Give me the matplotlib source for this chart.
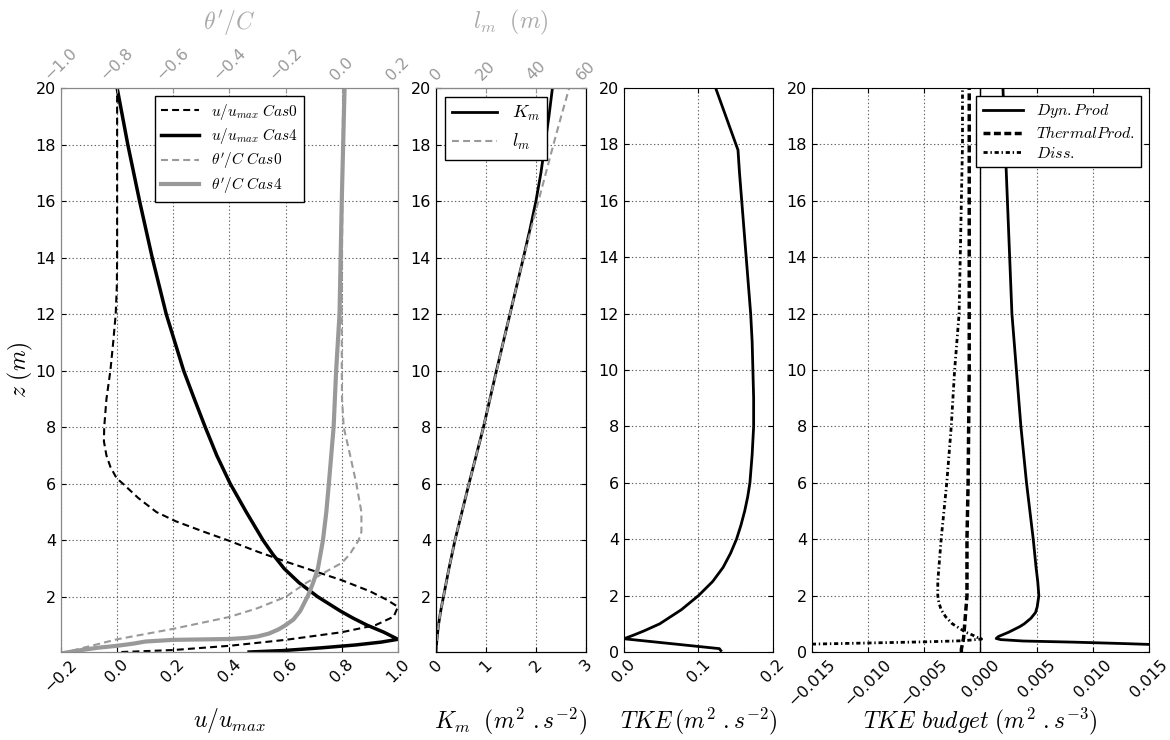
import matplotlib
matplotlib.use('Agg')
import matplotlib.pyplot as plt

plt.rcParams['mathtext.fontset'] = 'cm'
plt.rcParams['xtick.direction'] = 'in'
plt.rcParams['ytick.direction'] = 'in'
plt.rcParams['xtick.top'] = True
plt.rcParams['ytick.right'] = True
plt.rcParams['lines.scale_dashes'] = False
plt.rcParams['font.size'] = 11.5

# panel 1: velocity (bottom axis) and temperature (top axis)
z_u0 = [0.05, 0.12, 0.27, 0.48, 0.75, 1.0, 1.3, 1.65, 1.9, 2.2, 2.59, 2.92, 3.25, 3.6,
        3.98, 4.3, 4.67, 5.0, 5.5, 6.0, 6.2, 6.6, 7.0, 7.5, 8.0, 9.0, 10.0, 11.0, 12.0,
        13.0, 14, 16, 18, 20]
u_cas0 = [0.015, 0.2, 0.4, 0.6, 0.8, 0.92, 0.985, 1.0, 0.96, 0.9, 0.8, 0.7, 0.6, 0.5,
          0.4, 0.31, 0.21, 0.14, 0.075, 0.021, -0.002, -0.024, -0.038, -0.047, -0.046,
          -0.038, -0.024, -0.014, -0.005, -0.001, 0.0, 0.0, 0.0, 0.0]
z_u4 = [0.05, 0.1, 0.2, 0.3, 0.4, 0.5, 0.75, 1.0, 1.25, 1.5, 2, 2.5, 3, 3.5, 4, 5, 6, 7, 8, 9,
        10, 12, 14, 16, 18, 20]
u_cas4 = [0.47, 0.59, 0.73, 0.85, 0.94, 1.0, 0.95, 0.89, 0.84, 0.795, 0.715, 0.648, 0.595,
          0.555, 0.52, 0.46, 0.403, 0.355, 0.314, 0.275, 0.237, 0.175, 0.125, 0.08, 0.038, 0.0]
z_t0 = [0.0, 0.5, 0.87, 1.29, 1.6, 2.0, 2.5, 3.0, 3.2, 3.5, 4.0, 4.3, 5.0, 6.0, 7.0, 8.0,
        9.0, 10, 12, 16, 20]
theta_cas0 = [-1.0, -0.8, -0.6, -0.4, -0.3, -0.2, -0.126, -0.037, 0.0, 0.028, 0.06, 0.07,
              0.07, 0.052, 0.03, 0.007, 0.001, 0.0, 0.0, 0.002, 0.005]
z_t4 = [0.0, 0.1, 0.2, 0.27, 0.35, 0.42, 0.48, 0.51, 0.55, 0.6, 0.7, 0.85, 1.0, 1.2, 1.5,
        2.05, 2.5, 3.0, 4.0, 5.0, 6.0, 8.0, 10, 12, 16, 20]
theta_cas4 = [-1.0, -0.94, -0.87, -0.8, -0.74, -0.7, -0.6, -0.4, -0.34, -0.3, -0.26, -0.225,
              -0.2, -0.172, -0.148, -0.12, -0.102, -0.085, -0.067, -0.055, -0.046, -0.029,
              -0.02, -0.008, 0.0, 0.01]

# panel 2: eddy viscosity and mixing length
z_k = [0.05, 0.5, 1, 1.5, 2, 3, 4, 5, 6, 7, 8, 9, 10, 11, 12, 13, 14, 15, 16, 17, 18, 19, 20]
km = [0.0, 0.02, 0.05, 0.095, 0.15, 0.26, 0.38, 0.52, 0.66, 0.805, 0.95, 1.08, 1.21, 1.345,
      1.48, 1.615, 1.75, 1.88, 2.0, 2.1, 2.18, 2.26, 2.33]
lm = [0.0, 0.4, 1.0, 1.9, 3.0, 5.2, 7.6, 10.4, 13.2, 16.1, 19.0, 21.6, 24.3, 26.9, 29.6,
      32.3, 35.0, 38.0, 41.0, 44.0, 47.0, 50.1, 53.3]

# panel 3: TKE
z_tke = [0.05, 0.12, 0.47, 0.5, 0.6, 0.75, 1.0, 1.5, 2, 2.5, 3, 3.5, 4, 4.5, 5, 5.5, 6, 7, 8,
         9, 10, 11, 12, 13, 14, 15, 16, 17, 17.8, 20]
tke = [0.13, 0.128, 0.0, 0.003, 0.013, 0.027, 0.048, 0.077, 0.1, 0.119, 0.133, 0.143, 0.151,
       0.157, 0.162, 0.166, 0.169, 0.172, 0.174, 0.174, 0.173, 0.172, 0.17, 0.167, 0.164,
       0.161, 0.158, 0.155, 0.153, 0.123]

# panel 4: TKE budget
z_dyn = [0.25, 0.27, 0.30, 0.35, 0.39, 0.44, 0.48, 0.55, 0.6, 0.7, 0.8, 0.9, 1.0, 1.2, 1.4,
         1.6, 2.0, 2.5, 3, 4, 6, 8, 10, 12, 14, 16, 18, 20]
dyn_prod = [0.017, 0.015, 0.0127, 0.0083, 0.0038, 0.0018, 0.0014, 0.0016, 0.0019, 0.0025,
            0.0030, 0.0035, 0.0039, 0.0045, 0.0049, 0.00505, 0.0052, 0.0051, 0.00495, 0.0047,
            0.0041, 0.0036, 0.0032, 0.0028, 0.0026, 0.0024, 0.0022, 0.0020]
z_th = [0.0, 0.1, 0.3, 0.5, 1, 2, 4, 6, 10, 14, 20]
thermal_prod = [-0.0017, -0.0017, -0.0016, -0.0015, -0.0014, -0.0012, -0.0012, -0.0011,
                -0.001, -0.001, -0.001]
z_diss = [0.26, 0.28, 0.32, 0.36, 0.40, 0.46, 0.5, 0.6, 0.7, 0.85, 1.0, 1.25, 1.5, 1.75, 2,
          2.5, 3, 4, 6, 8, 10, 12, 14, 16, 18, 20]
diss = [-0.016, -0.015, -0.010, -0.005, -0.0015, 0.0001, -0.0002, -0.0007, -0.0013, -0.0019,
        -0.0025, -0.0031, -0.0035, -0.0037, -0.0038, -0.0038, -0.0037, -0.0035, -0.003,
        -0.0026, -0.0023, -0.0019, -0.0018, -0.0017, -0.0016, -0.0016]

gray = '#999999'
spine_gray = '#888888'
grid_kw = dict(color='#666666', linestyle=':', linewidth=0.8)
zticks = list(range(2, 21, 2))

fig = plt.figure(figsize=(11.7, 7.4), dpi=100)
bottom, height = 0.1189, 0.7622
ax1 = fig.add_axes([0.0521, bottom, 0.2880, height])
ax2 = fig.add_axes([0.3726, bottom, 0.1282, height])
ax3 = fig.add_axes([0.5333, bottom, 0.1274, height])
ax4 = fig.add_axes([0.6940, bottom, 0.2880, height])

# ---- panel 1
l1, = ax1.plot(u_cas0, z_u0, color='k', lw=1.5, linestyle=(0, (5, 3)))
l2, = ax1.plot(u_cas4, z_u4, color='k', lw=2.5)
ax1.set_xlim(-0.2, 1.0)
ax1.set_ylim(0.05, 20)
ax1.set_xticks([-0.2, 0.0, 0.2, 0.4, 0.6, 0.8, 1.0])
ax1.set_yticks(zticks)
ax1.tick_params(axis='x', labelrotation=45, top=False)
ax1.grid(True, **grid_kw)
ax1.set_xlabel(r'$u/u_{max}$', fontsize=17)
ax1.xaxis.set_label_coords(0.5, -0.095)
ax1.set_ylabel(r'$z\ (m)$', fontsize=17)
ax1.yaxis.set_label_coords(-0.078, 0.5)

ax1t = ax1.twiny()
l3, = ax1t.plot(theta_cas0, z_t0, color=gray, lw=1.5, linestyle=(0, (5, 3)))
l4, = ax1t.plot(theta_cas4, z_t4, color=gray, lw=3)
ax1t.set_xlim(-1.0, 0.2)
ax1t.set_xticks([-1.0, -0.8, -0.6, -0.4, -0.2, 0.0, 0.2])
ax1t.tick_params(axis='x', labelrotation=45, colors=gray)
ax1t.set_xlabel(r"$\theta'/C$", fontsize=17, color='#aaaaaa')
ax1t.xaxis.set_label_coords(0.5, 1.105)
for ax in (ax1, ax1t):
    for sp in ax.spines.values():
        sp.set_color(spine_gray)

leg = ax1t.legend([l1, l2, l3, l4],
                  [r'$u/u_{max}\ Cas0$', r'$u/u_{max}\ Cas4$',
                   r"$\theta'/C\ Cas0$", r"$\theta'/C\ Cas4$"],
                  loc='upper center', fontsize=11, fancybox=False, framealpha=1,
                  handlelength=2.5, borderpad=0.4, labelspacing=0.3)
leg.get_frame().set_edgecolor('k')

# ---- panel 2
k1, = ax2.plot(km, z_k, color='k', lw=2)
ax2.set_xlim(0, 3)
ax2.set_ylim(0.05, 20)
ax2.set_xticks([0, 1, 2, 3])
ax2.set_yticks(zticks)
ax2.tick_params(axis='x', labelrotation=45, top=False)
ax2.grid(True, **grid_kw)
ax2.set_xlabel(r'$K_m\ \ (m^2\ .s^{-2})$', fontsize=17)
ax2.xaxis.set_label_coords(0.5, -0.095)

ax2t = ax2.twiny()
k2, = ax2t.plot(lm, z_k, color=gray, lw=1.5, linestyle=(0, (5, 3)))
ax2t.set_xlim(0, 60)
ax2t.set_xticks([0, 20, 40, 60])
ax2t.tick_params(axis='x', labelrotation=45, colors=gray)
ax2t.spines['top'].set_color(spine_gray)
ax2t.set_xlabel(r'$l_m\ \ (m)$', fontsize=17, color='#aaaaaa')
ax2t.xaxis.set_label_coords(0.5, 1.105)
leg2 = ax2t.legend([k1, k2], [r'$K_m$', r'$l_m$'], loc='upper left', fontsize=13,
                   fancybox=False, framealpha=1, handlelength=2.5, borderpad=0.4)
leg2.get_frame().set_edgecolor('k')

# ---- panel 3
ax3.plot(tke, z_tke, color='k', lw=2)
ax3.set_xlim(0, 0.2)
ax3.set_ylim(0, 20)
ax3.set_xticks([0.0, 0.1, 0.2])
ax3.set_yticks([0] + zticks)
ax3.tick_params(axis='x', labelrotation=45)
ax3.grid(True, **grid_kw)
ax3.set_xlabel(r'$TKE\,(m^2\ .s^{-2})$', fontsize=17)
ax3.xaxis.set_label_coords(0.5, -0.095)

# ---- panel 4
ax4.plot(dyn_prod, z_dyn, color='k', lw=2, label=r'$Dyn{.}Prod$')
ax4.plot(thermal_prod, z_th, color='k', lw=2.5, linestyle=(0, (5, 2.5)),
         label=r'$ThermalProd{.}$')
ax4.plot(diss, z_diss, color='k', lw=2, linestyle=(0, (3, 2, 1, 2)), label=r'$Diss{.}$')
ax4.axvline(0, color='k', lw=1)
ax4.set_xlim(-0.015, 0.015)
ax4.set_ylim(0, 20)
ax4.set_xticks([-0.015, -0.010, -0.005, 0.0, 0.005, 0.010, 0.015])
ax4.set_xticklabels(['\u22120.015', '\u22120.010', '\u22120.005', '0.000', '0.005',
                     '0.010', '0.015'])
ax4.set_yticks([0] + zticks)
ax4.tick_params(axis='x', labelrotation=45)
ax4.grid(True, **grid_kw)
ax4.set_xlabel(r'$TKE\ budget\ (m^2\ .s^{-3})$', fontsize=17)
ax4.xaxis.set_label_coords(0.5, -0.095)
leg4 = ax4.legend(loc='upper right', fontsize=11.5, fancybox=False, framealpha=1,
                  handlelength=2.5, borderpad=0.4, labelspacing=0.3)
leg4.get_frame().set_edgecolor('k')

fig.savefig('out.png', dpi=100)
